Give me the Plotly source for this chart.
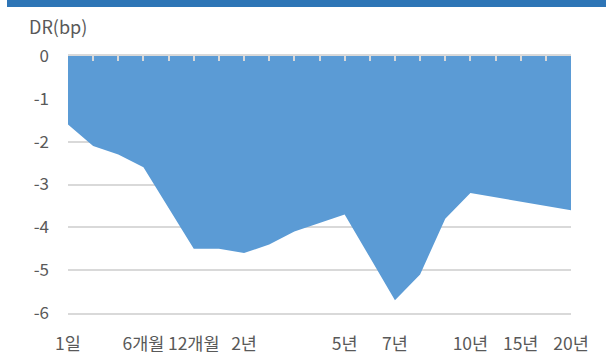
import plotly.graph_objects as go

# Maturity buckets (only some carry a printed label)
tenor_labels = ["1일", "", "", "6개월", "", "12개월", "", "2년", "", "", "",
                "5년", "", "7년", "", "", "10년", "", "15년", "", "20년"]
# Change in yield, basis points
dr_bp = [-1.6, -2.1, -2.3, -2.6, -3.55, -4.5, -4.5, -4.6, -4.4, -4.1, -3.9,
         -3.7, -4.7, -5.7, -5.1, -3.8, -3.2, -3.3, -3.4, -3.5, -3.6]
y_ticks = [0, -1, -2, -3, -4, -5, -6]
y_tick_text = ["0", "-1", "-2", "-3", "-4", "-5", "-6"]

positions = list(range(len(dr_bp)))
font_family = "Noto Sans CJK KR, Noto Sans, sans-serif"
label_color = "#595959"
grid_color = "#D9D9D9"

fig = go.Figure()
fig.add_trace(go.Scatter(
    x=positions, y=dr_bp, mode="lines", fill="tozeroy",
    fillcolor="#5B9BD5", line=dict(width=0, color="#5B9BD5"),
    hoverinfo="skip", showlegend=False,
))
# carrier trace so the top category axis (line + tick marks) is drawn
fig.add_trace(go.Scatter(
    x=positions, y=dr_bp, xaxis="x2", mode="lines",
    line=dict(width=0), opacity=0, hoverinfo="skip", showlegend=False,
))

fig.update_layout(
    width=606, height=361,
    margin=dict(l=68, r=35, t=56, b=48),
    paper_bgcolor="white", plot_bgcolor="white",
    font=dict(family=font_family, size=16, color=label_color),
    xaxis=dict(
        range=[0, len(dr_bp) - 1], tickvals=positions, ticktext=tenor_labels,
        showgrid=False, zeroline=False, ticks="", automargin=False,
        showline=True, linecolor=grid_color, linewidth=1.5,
        tickfont=dict(size=17.5, color=label_color), ticklabelstandoff=14,
    ),
    xaxis2=dict(
        range=[0, len(dr_bp) - 1], overlaying="x", side="top", anchor="y",
        tickvals=positions, showticklabels=False, showgrid=False,
        zeroline=False, showline=True, linecolor=grid_color, linewidth=2,
        ticks="inside", ticklen=5, tickwidth=2, tickcolor=grid_color,
        automargin=False,
    ),
    yaxis=dict(
        range=[-6, 0], tickvals=y_ticks, ticktext=y_tick_text,
        showgrid=True, gridcolor=grid_color, gridwidth=1.5,
        zeroline=False, showline=False, ticks="", automargin=False,
        tickfont=dict(size=17, color=label_color), ticklabelstandoff=18,
    ),
    shapes=[dict(
        type="rect", xref="paper", yref="paper",
        x0=(7 - 68) / 503, x1=(606 - 68) / 503,
        y0=(313 - 7) / 257, y1=(313 - 0) / 257,
        fillcolor="#2E75B6", line=dict(width=0), layer="above",
    )],
    annotations=[dict(
        text="DR(bp)", xref="paper", yref="paper",
        x=(27 - 68) / 503, y=(313 - 26) / 257,
        xanchor="left", yanchor="middle", showarrow=False,
        font=dict(size=18, color=label_color, family=font_family),
    )],
)

fig.write_html("out.html")
